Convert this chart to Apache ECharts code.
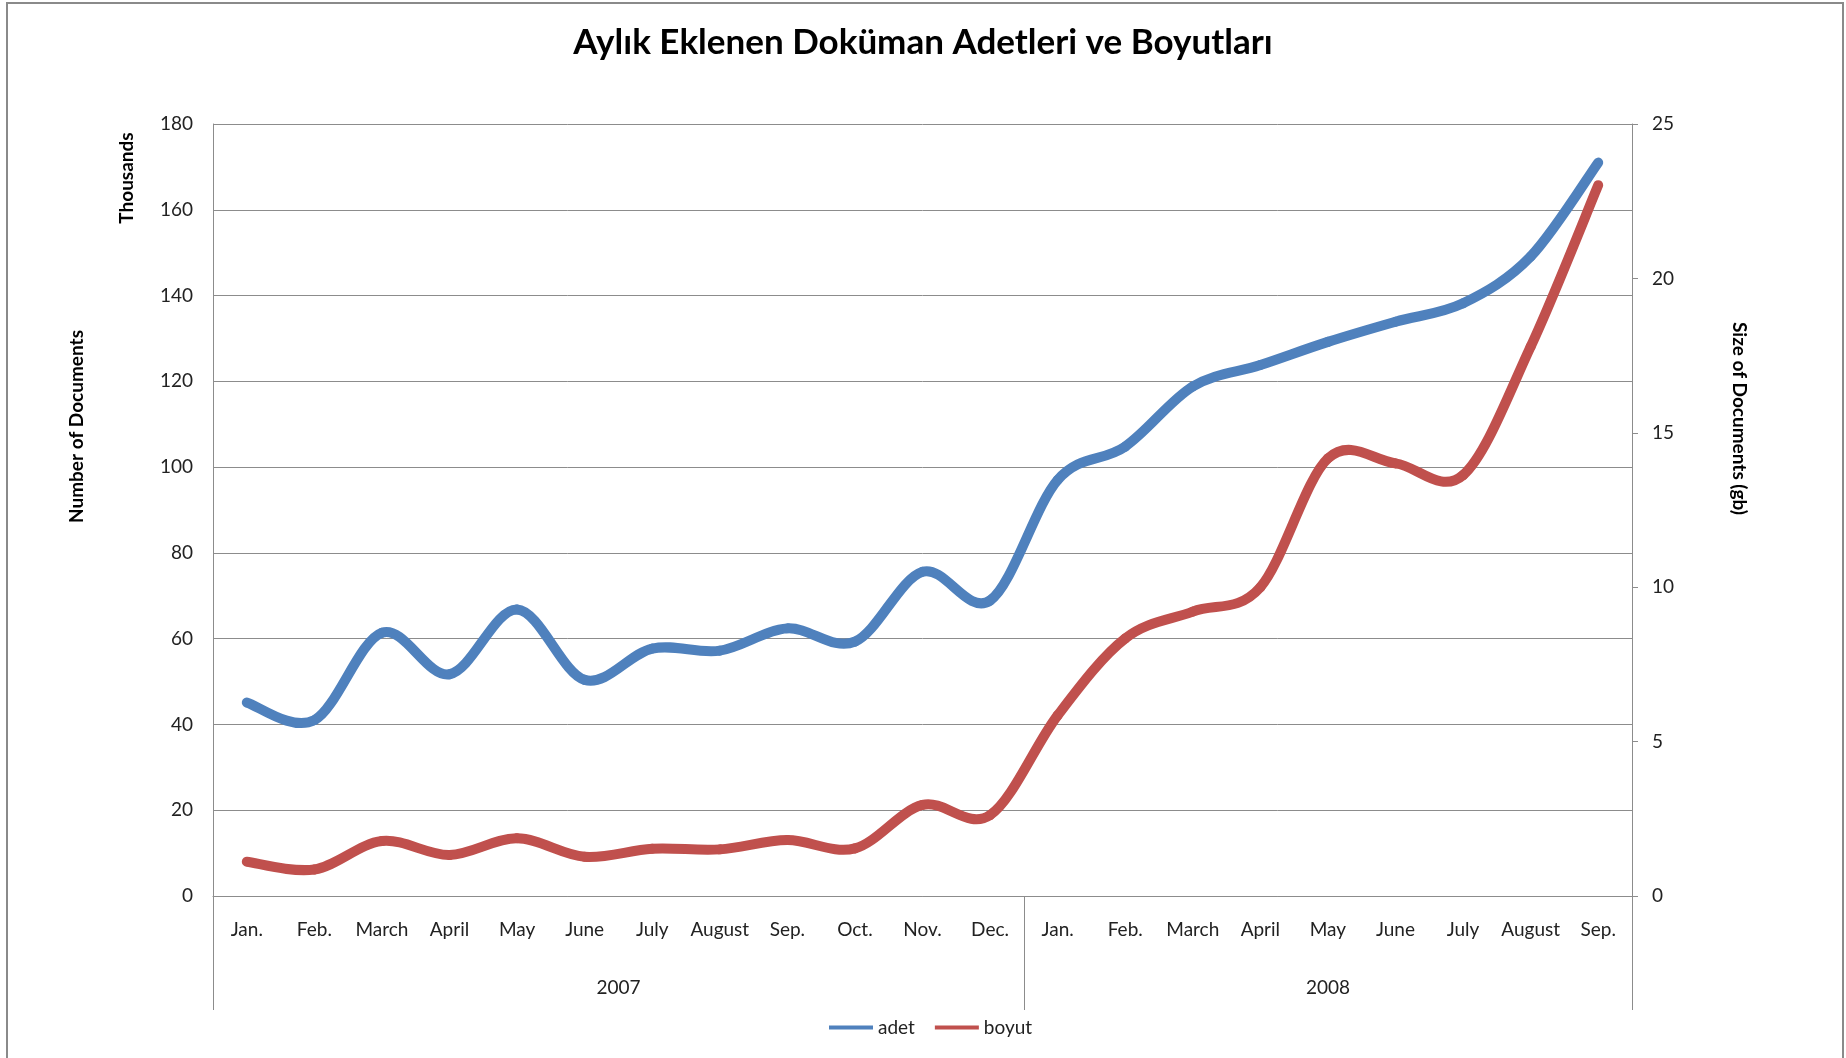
<!DOCTYPE html>
<html>
<head>
<meta charset="utf-8">
<script src="https://cdn.jsdelivr.net/npm/echarts@6/dist/echarts.min.js"></script>
<style>
html,body{margin:0;padding:0;background:#fff;}
#chart{width:1846px;height:1058px;}
</style>
</head>
<body>
<div id="chart"></div>
<script>
// ---- data ----
var years = ['2007', '2008'];
var monthsPerYear = [12, 9];
var months = ['Jan.','Feb.','March','April','May','June','July','August','Sep.','Oct.','Nov.','Dec.',
              'Jan.','Feb.','March','April','May','June','July','August','Sep.'];
var adet = [45.1, 41.0, 61.4, 51.7, 66.8, 50.4, 57.7, 57.2, 62.4, 59.3, 75.6, 68.9,
            97.0, 104.8, 118.8, 123.8, 129.2, 133.9, 138.2, 149.1, 171.0];
var boyut = [1.11, 0.86, 1.78, 1.33, 1.87, 1.27, 1.53, 1.51, 1.81, 1.54, 2.95, 2.62,
             5.85, 8.34, 9.21, 10.0, 14.17, 14.01, 13.63, 17.79, 23.02];
var seriesNames = ['adet', 'boyut'];
var leftTicks = {min: 0, max: 180, interval: 20};
var rightTicks = {min: 0, max: 25, interval: 5};

// ---- derived ----
var categories = [];
(function(){
  var k = 0;
  for (var y = 0; y < years.length; y++) {
    for (var m = 0; m < monthsPerYear[y]; m++) { categories.push(years[y] + '|' + months[k]); k++; }
  }
})();
var total = monthsPerYear.reduce(function(a,b){return a+b;}, 0);
var yearBounds = [0], yearCenters = [];
(function(){
  var acc = 0;
  for (var y = 0; y < monthsPerYear.length; y++) {
    yearCenters.push(acc + monthsPerYear[y] / 2);
    acc += monthsPerYear[y];
    yearBounds.push(acc);
  }
})();

// Smooth curve (Excel-like Catmull-Rom bezier) drawn through the library's coordinate system
function makeSmoothRender(n, color, width) {
  return function (params, api) {
    var i = params.dataIndexInside;
    if (i >= n - 1) return null;
    function pt(j) {
      j = Math.max(0, Math.min(n - 1, j));
      return api.coord([api.value(0, j), api.value(1, j)]);
    }
    var p0 = pt(i - 1), p1 = pt(i), p2 = pt(i + 1), p3 = pt(i + 2);
    var k = 1 / 6;
    return {
      type: 'bezierCurve',
      shape: {
        x1: p1[0], y1: p1[1], x2: p2[0], y2: p2[1],
        cpx1: p1[0] + (p2[0] - p0[0]) * k, cpy1: p1[1] + (p2[1] - p0[1]) * k,
        cpx2: p2[0] - (p3[0] - p1[0]) * k, cpy2: p2[1] - (p3[1] - p1[1]) * k
      },
      style: {stroke: color, lineWidth: width, fill: null, lineCap: 'round', lineJoin: 'round'},
      silent: true
    };
  };
}
function pairs(arr) { return arr.map(function (v, i) { return [i, v]; }); }

var FONT = 'Lato';
var GRAY = '#8c8c8c';
var BLUE = '#4F81BD', RED = '#C0504D';
var chart = echarts.init(document.getElementById('chart'));
chart.setOption({
  animation: false,
  backgroundColor: '#fff',
  title: {
    text: 'Aylık Eklenen Doküman Adetleri ve Boyutları',
    left: 'center',
    top: 20,
    textStyle: {fontFamily: FONT, fontWeight: 'bold', fontSize: 35, color: '#000'}
  },
  legend: {
    data: seriesNames,
    left: 824,
    top: 1013,
    icon: 'rect',
    itemWidth: 44,
    itemHeight: 4,
    itemGap: 20,
    textStyle: {fontFamily: FONT, fontSize: 19, color: '#222'}
  },
  grid: {left: 213, right: 214, top: 124, bottom: 162, containLabel: false},
  xAxis: [{
    type: 'category',
    data: categories,
    boundaryGap: true,
    axisLine: {show: true, lineStyle: {color: GRAY, width: 1}},
    axisTick: {show: false},
    axisLabel: {
      interval: 0, margin: 24, hideOverlap: false,
      fontFamily: FONT, fontSize: 19, color: '#222',
      formatter: function(v){ return v.split('|')[1]; }
    }
  }, {
    type: 'value',
    min: 0, max: total,
    position: 'bottom',
    axisLine: {show: false},
    splitLine: {show: false},
    axisTick: {show: true, inside: false, length: 114, customValues: yearBounds, lineStyle: {color: GRAY, width: 1}},
    axisLabel: {
      show: true, margin: 82, customValues: yearCenters,
      fontFamily: FONT, fontSize: 19, color: '#222',
      formatter: function(v){ var i = yearCenters.indexOf(v); return i >= 0 ? years[i] : ''; }
    }
  }],
  yAxis: [{
    type: 'value',
    min: leftTicks.min, max: leftTicks.max, interval: leftTicks.interval,
    name: 'Number of Documents',
    nameLocation: 'middle',
    nameRotate: 90,
    nameGap: 127,
    nameTextStyle: {fontFamily: FONT, fontWeight: 'bold', fontSize: 19, color: '#000', padding: [0, 0, 0, 167]},
    axisLine: {show: true, lineStyle: {color: GRAY, width: 1}},
    axisTick: {show: false},
    splitLine: {show: true, lineStyle: {color: GRAY, width: 1}},
    axisLabel: {margin: 20, fontFamily: FONT, fontSize: 19, color: '#222'}
  }, {
    type: 'value',
    position: 'right',
    min: rightTicks.min, max: rightTicks.max, interval: rightTicks.interval,
    name: 'Size of Documents (gb)',
    nameLocation: 'middle',
    nameRotate: -90,
    nameGap: 98,
    nameTextStyle: {fontFamily: FONT, fontWeight: 'bold', fontSize: 19, color: '#000', padding: [0, 183, 0, 0]},
    axisLine: {show: true, lineStyle: {color: GRAY, width: 1}},
    axisTick: {show: true, inside: false, length: 6, lineStyle: {color: GRAY}},
    splitLine: {show: false},
    axisLabel: {margin: 20, fontFamily: FONT, fontSize: 19, color: '#222'}
  }],
  series: [{
    name: seriesNames[0],
    type: 'custom',
    xAxisIndex: 0,
    yAxisIndex: 0,
    data: pairs(adet),
    encode: {x: 0, y: 1},
    color: BLUE,
    itemStyle: {color: BLUE},
    renderItem: makeSmoothRender(adet.length, BLUE, 10)
  }, {
    name: seriesNames[1],
    type: 'custom',
    xAxisIndex: 0,
    yAxisIndex: 1,
    data: pairs(boyut),
    encode: {x: 0, y: 1},
    color: RED,
    itemStyle: {color: RED},
    renderItem: makeSmoothRender(boyut.length, RED, 10)
  }],
  graphic: [{
    type: 'rect',
    shape: {x: 7, y: 3, width: 1836, height: 1080},
    style: {fill: 'none', stroke: '#8a8a8a', lineWidth: 2},
    silent: true
  }, {
    type: 'text',
    x: 127, y: 178,
    rotation: Math.PI / 2,
    style: {text: 'Thousands', fontFamily: FONT, fontWeight: 'bold', fontSize: 19, fill: '#000', align: 'center', verticalAlign: 'middle'},
    silent: true
  }]
});
</script>
</body>
</html>
